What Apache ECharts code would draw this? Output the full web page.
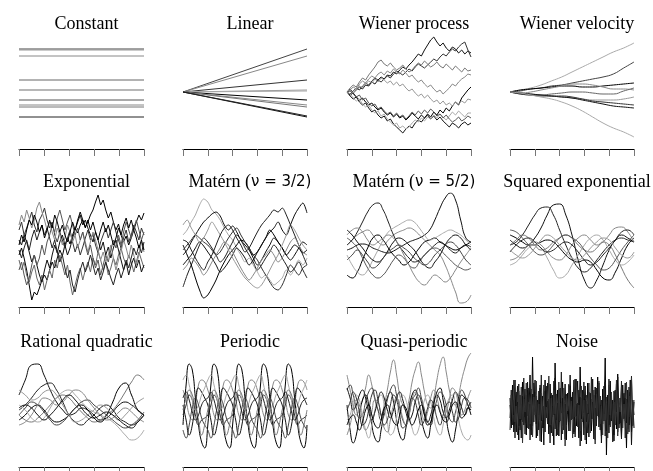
<!DOCTYPE html>
<html>
<head>
<meta charset="utf-8">
<title>GP kernel samples</title>
<script src="https://cdn.jsdelivr.net/npm/echarts@6.0.0/dist/echarts.min.js"></script>
<style>
  html, body { margin: 0; padding: 0; background: #fff; }
  #chart { width: 653px; height: 471px; }
</style>
</head>
<body>
<div id="chart"></div>
<script>
// sample values (y units are arbitrary, axis runs -57..57)
const constantLevels = [43, 42, 36, 12, 2, 2, -8, -13, -15, -25];
const linearEnds = [43, 36, 12, 2, 1, -8, -13, -15, -25, -24];

const wienerProcess = [
  [0, 3, -1, 2, 5, 3, 7, 6, 10, 8, 12, 15, 13, 17, 16, 20, 18, 22, 25, 23, 27, 30, 34, 38, 36, 42, 47, 52, 55, 50, 46, 49, 44, 41, 45, 43, 39, 42, 38, 41, 39],
  [0, -2, 1, 4, 2, 6, 9, 7, 11, 14, 12, 10, 13, 16, 14, 18, 21, 19, 17, 20, 23, 21, 25, 28, 26, 24, 27, 30, 33, 31, 35, 38, 36, 40, 43, 41, 45, 48, 50, 42, 35],
  [0, 4, 7, 5, 10, 14, 12, 17, 21, 25, 30, 32, 28, 26, 29, 25, 22, 24, 27, 23, 20, 22, 26, 29, 27, 31, 28, 25, 27, 30, 26, 24, 28, 25, 22, 26, 23, 20, 24, 21, 22],
  [0, 2, 5, 3, 8, 11, 9, 13, 16, 14, 18, 20, 17, 21, 19, 23, 20, 18, 22, 19, 15, 17, 13, 10, 12, 8, 5, 7, 3, 0, 2, -2, 1, 4, 8, 6, 10, 13, 15, 18, 17],
  [0, -3, -1, -5, -8, -6, -10, -13, -11, -15, -18, -16, -20, -23, -21, -25, -22, -26, -24, -28, -25, -21, -24, -27, -23, -26, -22, -25, -20, -23, -18, -21, -16, -19, -14, -10, -13, -6, -2, 2, 5],
  [0, 2, -1, 3, 6, 4, 8, 11, 9, 13, 10, 14, 12, 9, 11, 7, 10, 6, 8, 4, 1, 3, -1, -4, -2, -6, -3, -7, -10, -8, -12, -9, -13, -11, -14, -10, -12, -9, -11, -7, -8],
  [0, -4, -7, -5, -10, -13, -11, -16, -20, -18, -23, -26, -24, -29, -27, -32, -35, -38, -41, -37, -34, -36, -31, -28, -30, -26, -23, -27, -24, -28, -25, -29, -32, -35, -31, -33, -36, -32, -30, -33, -31],
  [0, -2, -6, -9, -7, -12, -15, -13, -18, -21, -19, -24, -22, -27, -30, -33, -31, -36, -34, -37, -35, -31, -28, -30, -26, -29, -25, -27, -23, -26, -22, -25, -28, -24, -20, -23, -19, -22, -25, -21, -21],
  [0, 1, -2, -5, -3, -8, -6, -11, -14, -12, -17, -15, -19, -22, -20, -24, -21, -25, -23, -27, -24, -20, -23, -19, -22, -18, -21, -17, -20, -24, -22, -26, -23, -27, -30, -28, -25, -29, -27, -24, -26]
];

const wienerVelocity = [
  [0, 2, 4, 7, 11, 15, 20, 25, 30, 35, 40, 44, 49],
  [0, 1, 3, 4, 6, 7, 9, 11, 13, 15, 18, 24, 30],
  [0, 2, 3, 4, 5, 6, 6, 5, 5, 6, 7, 8, 9],
  [0, -1, 0, 2, 4, 6, 8, 8, 7, 5, 3, 3, 2],
  [0, -2, -3, -3, -2, -1, 0, 0, -1, -2, -2, 1, 4],
  [0, -1, -2, -3, -4, -5, -6, -7, -8, -8, -8, -7, -5],
  [0, -1, -2, -3, -4, -5, -6, -8, -10, -12, -14, -15, -16],
  [0, -2, -3, -4, -4, -4, -5, -7, -9, -10, -11, -12, -13],
  [0, -1, -3, -5, -7, -10, -14, -19, -25, -31, -36, -40, -45]
];

const exponential = [
  [-5, 2, -8, -20, -35, -50, -42, -45, -38, -30, -25, -30, -20, -12, -18, -8, 0, -6, 5, 12, 6, 15, 22, 17, 25, 30, 23, 28, 35, 40, 48, 55, 45, 50, 40, 32, 38, 28, 20, 26, 15, 8, 14, 5, 12, 20, 28, 35, 30, 37],
  [20, 28, 15, 22, 30, 38, 25, 18, 30, 35, 42, 30, 22, 28, 15, 8, 18, 10, 2, 12, 20, 8, -2, 6, -5, 3, 12, 20, 10, 16, 5, -3, 8, 15, 22, 12, 20, 28, 18, 10, 2, 12, 20, 8, 15, 25, 18, 10, 22, 15],
  [-10, -20, -12, -25, -32, -22, -15, -28, -35, -25, -40, -30, -20, -28, -10, -18, -5, -15, -25, -15, -32, -45, -35, -25, -18, -30, -20, -12, -22, -8, -15, -2, -10, -20, -12, -25, -18, -8, -15, -5, 2, -8, -15, -5, -12, -22, -12, -2, -10, -18],
  [10, 5, 15, 8, -2, -12, -5, -15, -25, -32, -20, -10, -18, -5, 5, -3, 8, 15, 5, -5, 2, 12, 20, 28, 35, 25, 30, 22, 15, 8, 18, 10, 0, 8, -5, 3, -8, 2, 10, 0, -10, -20, -12, -25, -15, -8, -18, -10, -22, -15],
  [25, 35, 28, 40, 32, 22, 30, 42, 48, 38, 30, 20, 28, 18, 10, 22, 15, 5, 12, 25, 18, 8, 15, 2, 10, 18, 8, -2, 8, 18, 10, 0, -10, -2, -12, -5, 5, -8, -20, -10, -2, 10, 2, -8, 5, -5, -15, -5, 8, -2],
  [0, -8, 2, 10, 0, 12, 20, 10, 18, 25, 15, 22, 12, 2, 10, -2, -12, -5, -18, -28, -20, -35, -42, -30, -20, -12, -22, -15, -5, -15, -25, -18, -30, -22, -12, -20, -28, -35, -25, -18, -28, -20, -10, -18, -8, 2, -5, 5, -3, 8],
  [-20, -12, -25, -35, -28, -15, -5, -15, -8, 5, -5, 8, 15, 25, 18, 32, 40, 30, 20, 28, 35, 25, 15, 22, 10, 18, 5, -5, 5, -8, -18, -10, -25, -15, -5, -12, 0, 10, 2, 15, 5, 18, 28, 20, 12, 22, 30, 20, 10, 18],
  [5, 15, 8, 20, 30, 25, 35, 28, 18, 25, 12, 20, 30, 22, 35, 28, 18, 25, 15, 8, 18, 28, 20, 30, 38, 30, 22, 30, 20, 28, 18, 10, 20, 28, 18, 25, 15, 5, 12, 22, 15, 25, 32, 22, 30, 20, 12, 2, 10, 0]
];

const matern32 = [
  [15, 20, 28, 35, 45, 51, 48, 40, 36, 30, 22, 15, 10, 2, -5, -12, -8, -15, -22, -28, -25, -30, -35, -32, -28, -20, -25, -18, -10, -15, -8],
  [-5, 0, 8, 15, 22, 28, 32, 36, 38, 34, 25, 20, 24, 18, 10, 5, 0, -8, -15, -10, -2, 5, 12, 8, 2, -5, -10, -5, 2, 8, 5],
  [-37, -25, -15, -5, 5, 12, 8, 2, -5, -12, -8, 0, 8, 15, 10, 2, -5, -12, -20, -15, -8, -2, 5, 0, -8, -15, -22, -18, -12, -20, -28],
  [5, -5, -15, -28, -40, -48, -45, -38, -30, -20, -12, -5, 0, 5, 10, 8, 2, -5, -2, 5, 12, 20, 15, 8, 2, -5, 0, 5, 2, -3, 0],
  [-15, -10, -5, 2, 8, 4, -2, -8, -15, -22, -18, -12, -5, 2, -2, -8, -15, -10, -2, 5, 12, 18, 22, 28, 20, 15, 25, 35, 42, 47, 37],
  [0, 5, 10, 15, 12, 8, 5, 0, -5, -2, 5, 12, 18, 22, 15, 8, 2, -5, -10, -18, -25, -32, -38, -40, -35, -25, -15, -20, -25, -18, -15],
  [25, 30, 22, 15, 8, 12, 20, 28, 22, 15, 8, 0, -8, -15, -22, -28, -32, -36, -38, -35, -28, -20, -12, -5, 5, 15, 25, 20, 12, 5, 0],
  [10, 8, 0, -8, -15, -20, -12, -5, 5, 15, 22, 25, 20, 12, 5, -2, 2, 10, 18, 25, 30, 35, 40, 38, 42, 35, 25, 15, 5, -5, -15],
  [-20, -15, -8, -12, -18, -25, -20, -12, -5, 2, 8, 5, -2, -10, -18, -25, -30, -25, -18, -10, -5, 0, -5, -12, -8, 0, 8, 12, 5, -2, -5]
];

const matern52 = [
  [0, 2, 5, 6, 5, 2, 0, -2, -3, -1, 2, 5, 8, 10, 12, 15, 20, 30, 42, 52, 57, 50, 30, 12, 8],
  [5, 10, 15, 18, 20, 15, 8, 5, 10, 15, 18, 20, 22, 20, 15, 10, 5, 0, -5, -15, -28, -42, -53, -52, -45],
  [5, 10, 18, 28, 38, 45, 47, 40, 28, 15, 5, -2, -8, -12, -10, -5, 0, 5, 8, 5, 0, -3, 2, 5, 3],
  [-25, -28, -22, -10, 2, 12, 15, 10, 2, -5, -10, -15, -12, -5, 2, 8, 10, 12, 8, 5, 2, 0, 2, 5, 8],
  [12, 8, 2, -8, -18, -25, -28, -25, -18, -10, -5, -8, -15, -18, -12, -5, 0, 2, 0, -5, -10, -15, -18, -20, -18],
  [-5, -15, -22, -25, -20, -10, 0, 10, 18, 22, 25, 28, 30, 28, 22, 15, 10, 12, 15, 18, 20, 18, 15, 10, 5],
  [15, 20, 22, 18, 10, 5, 8, 12, 15, 12, 5, -5, -15, -25, -32, -35, -30, -25, -28, -32, -28, -20, -12, -5, 2],
  [20, 15, 8, 2, -5, -10, -12, -8, 0, 8, 12, 10, 5, 0, -8, -15, -18, -12, -5, 5, 12, 15, 12, 5, 0],
  [-10, -5, 0, -5, -12, -18, -15, -8, -2, 2, 5, 2, -2, -8, -12, -15, -12, -5, 0, 5, 8, 5, -2, -10, -15]
];

const squaredExp = [
  [5, 8, 15, 25, 35, 42, 43, 35, 20, 5, -8, -18, -22, -18, -10, -2, 5, 10, 12, 10, 8],
  [10, 5, 2, 5, 12, 22, 35, 45, 46, 35, 15, -10, -30, -38, -30, -15, 0, 10, 15, 12, 8],
  [15, 12, 8, 5, 5, 8, 10, 8, 2, -5, -10, -12, -10, -12, -20, -28, -30, -22, -8, 5, 12],
  [-10, -8, -2, 5, 8, 5, -2, -8, -10, -5, 5, 12, 15, 10, 5, 8, 15, 22, 23, 18, 8],
  [5, 10, 15, 12, 5, 0, 2, 8, 12, 15, 12, 5, 0, -2, 2, 8, 5, -5, -18, -30, -38],
  [-15, -12, -5, 2, 5, 2, -8, -20, -28, -25, -15, -5, 5, 12, 15, 10, 0, -10, -15, -12, -5],
  [20, 18, 12, 5, -2, -5, -2, 5, 12, 15, 12, 8, 0, -8, -15, -20, -18, -10, 0, 8, 15],
  [-2, 5, 10, 12, 8, 2, -2, 0, 5, 8, 5, -2, -10, -15, -12, -5, 2, 10, 18, 20, 15],
  [0, -5, -8, -5, 2, 10, 15, 12, 5, -2, -8, -10, -5, 2, 8, 12, 10, 2, -5, -8, -2]
];

const rationalQuad = [
  [15, 30, 45, 46, 35, 20, 8, 0, -5, -3, 2, 0, -5, -10, -8, -2, 5, 8, 5, 0, -5],
  [-5, -10, -12, -8, -2, 5, 12, 15, 12, 5, -2, -8, -12, -10, -5, 0, 8, 18, 28, 35, 30],
  [-10, -5, 2, 5, 0, -8, -12, -10, -5, 2, 5, 0, -8, -12, -5, 8, 22, 27, 15, 0, -5],
  [0, 5, 12, 20, 25, 27, 20, 8, -5, -12, -15, -10, -5, 2, 5, 0, -8, -12, -15, -12, -5],
  [5, 0, -8, -12, -8, 2, 12, 18, 20, 15, 8, 2, -2, -5, -8, -12, -18, -25, -30, -28, -20],
  [-5, 2, 8, 5, -2, -10, -15, -12, -5, 2, 8, 10, 5, 0, -5, -10, -15, -18, -15, -10, -2],
  [20, 15, 10, 12, 18, 20, 15, 5, -5, -12, -10, -5, 0, 5, 2, -5, -10, -5, 2, 8, 12],
  [-15, -12, -5, 5, 12, 10, 5, 8, 15, 20, 18, 10, 2, -5, -10, -8, -2, 2, -2, -8, -12],
  [2, 5, 2, -5, -10, -5, 2, 10, 15, 10, 2, -5, -8, -5, -2, -5, -10, -15, -18, -12, -5]
];

const periodic = [
  [-15, 25, 46, 40, 12, -15, -32, -38, -15, 25, 46, 40, 12, -15, -32, -38, -15, 25, 46, 40, 12, -15, -32, -38, -15, 25, 46, 40, 12, -15, -32, -38, -15, 25, 46, 40, 12, -15, -32, -38, -15],
  [20, 10, -5, -10, 5, 25, 30, 28, 20, 10, -5, -10, 5, 25, 30, 28, 20, 10, -5, -10, 5, 25, 30, 28, 20, 10, -5, -10, 5, 25, 30, 28, 20, 10, -5, -10, 5, 25, 30, 28, 20],
  [-5, 5, 15, 10, -5, -15, -10, -8, -5, 5, 15, 10, -5, -15, -10, -8, -5, 5, 15, 10, -5, -15, -10, -8, -5, 5, 15, 10, -5, -15, -10, -8, -5, 5, 15, 10, -5, -15, -10, -8, -5],
  [5, -10, -25, -15, 8, 22, 18, 12, 5, -10, -25, -15, 8, 22, 18, 12, 5, -10, -25, -15, 8, 22, 18, 12, 5, -10, -25, -15, 8, 22, 18, 12, 5, -10, -25, -15, 8, 22, 18, 12, 5],
  [30, 35, 25, 10, 0, 5, 15, 22, 30, 35, 25, 10, 0, 5, 15, 22, 30, 35, 25, 10, 0, 5, 15, 22, 30, 35, 25, 10, 0, 5, 15, 22, 30, 35, 25, 10, 0, 5, 15, 22, 30],
  [-20, -28, -15, 2, 12, 5, -8, -15, -20, -28, -15, 2, 12, 5, -8, -15, -20, -28, -15, 2, 12, 5, -8, -15, -20, -28, -15, 2, 12, 5, -8, -15, -20, -28, -15, 2, 12, 5, -8, -15, -20],
  [0, 12, 20, 15, 2, -10, -25, -15, 0, 12, 20, 15, 2, -10, -25, -15, 0, 12, 20, 15, 2, -10, -25, -15, 0, 12, 20, 15, 2, -10, -25, -15, 0, 12, 20, 15, 2, -10, -25, -15, 0],
  [12, 18, 10, -2, -10, -5, 5, 10, 12, 18, 10, -2, -10, -5, 5, 10, 12, 18, 10, -2, -10, -5, 5, 10, 12, 18, 10, -2, -10, -5, 5, 10, 12, 18, 10, -2, -10, -5, 5, 10, 12]
];

const quasiPeriodic = [
  [35, 20, 5, -5, 0, 10, 22, 35, 25, 10, 0, -5, 5, 20, 38, 50, 35, 15, 5, 0, 10, 28, 40, 48, 35, 18, 5, 2, 12, 30, 45, 53, 38, 20, 8, 5, 15, 30, 42, 52, 57],
  [5, -20, -33, -25, -5, 10, 15, 5, -15, -28, -32, -20, 0, 12, 18, 8, -10, -25, -30, -18, 2, 15, 20, 10, -8, -22, -28, -15, 5, 18, 22, 10, -8, -25, -32, -20, 0, 15, 12, 5, -5],
  [20, 25, 15, 2, -8, -5, 8, 18, 22, 12, 0, -10, -5, 10, 20, 25, 15, 2, -10, -15, -5, 10, 15, 22, 12, 0, -12, -15, -2, 10, 18, 15, 5, -8, -12, -2, 10, 20, 15, 5, 0],
  [-10, -5, 8, 15, 10, -5, -20, -28, -15, 0, 12, 15, 5, -12, -25, -22, -8, 8, 15, 10, -5, -18, -25, -20, -5, 10, 15, 8, -8, -20, -25, -15, 2, 12, 15, 5, -10, -22, -28, -30, -25],
  [22, 12, 0, 5, 15, 20, 12, -2, -10, -2, 10, 18, 12, 0, -8, 0, 12, 18, 10, -2, -10, -5, 8, 15, 8, -5, -12, -5, 8, 15, 10, -2, -8, 0, 10, 18, 12, 2, -5, 2, 8],
  [-25, -15, 0, 10, 5, -10, -20, -15, -2, 10, 8, -5, -18, -22, -10, 5, 12, 5, -8, -15, -5, 10, 18, 10, -2, -10, -2, 12, 20, 12, 0, -8, -2, 10, 22, 18, 5, -5, 0, 12, 20],
  [0, 8, 18, 12, -2, -15, -12, 0, 15, 20, 10, -5, -15, -10, 5, 15, 10, -5, -18, -15, 0, 12, 8, -5, -15, -10, 2, 10, 5, -8, -15, -5, 5, 8, -2, -12, -8, 5, 12, 10, 2],
  [-15, -8, -5, -12, -20, -12, 0, 5, -5, -15, -18, -10, 2, 5, -3, -12, -15, -5, 5, 2, -8, -15, -10, 0, 5, -5, -15, -12, 0, 5, -2, -10, -12, -5, 5, 8, 0, -8, -5, 2, 0]
];

const noise = [
  [12, -18, 25, -5, 30, -22, 8, -30, 15, -10, 28, -15, 5, -25, 20, -8, 35, -20, 53, -12, 18, -28, 10, -5, 22, -32, 14, -18, 30, -6, 9, -24, 26, -14, 4, -35, 47, -10, 20, -26, 12, -3, 28, -20, 6, -30, 17, -12, 24, -8, 13, -22, 31, -16, 7, -28, 43, -9, 19, -25, 11, -34, 27, -4, 16, -21, 8, -29, 23, -13, 33, -17, 5, -26, 21, -11, 52, -45, 15, -23, 29, -7, 10, -31, 18, -19, 36, -14, 3, -27, 25, -9, 12, -38, 20, -15, 30, -22, 8, -18],
  [-8, 20, -15, 10, -28, 18, -3, 26, -20, 6, -12, 32, -24, 15, -6, 22, -30, 9, -16, 27, -2, 14, -26, 19, -10, 35, -18, 4, -22, 24, -14, 11, -33, 17, -7, 29, -19, 2, -25, 21, -11, 38, -16, 8, -29, 16, -4, 25, -21, 13, -9, 30, -27, 6, -15, 20, -36, 12, -5, 28, -18, 9, -23, 18, -12, 33, -8, 15, -30, 22, -3, 27, -20, 10, -14, 24, -26, 7, -10, 31, -17, 14, -32, 19, -6, 26, -22, 3, -13, 29, -9, 17, -28, 11, -19, 23, -4, 34, -15, 8],
  [5, -10, 18, -22, 9, -4, 24, -16, 2, -28, 14, -7, 21, -13, 28, -19, 6, -25, 16, -1, 30, -14, 8, -20, 25, -11, 3, -35, 19, -8, 27, -17, 10, -23, 15, -5, 32, -26, 7, -12, 22, -30, 12, -2, 26, -15, 4, -21, 35, -10, 18, -24, 9, -6, 29, -18, 13, -31, 20, -3, 24, -12, 6, -27, 17, -9, 31, -20, 2, -16, 26, -7, 14, -33, 11, -4, 28, -21, 9, -15, 23, -11, 5, -25, 20, -2, 33, -18, 12, -29, 16, -8, 27, -13, 6, -22, 18, -35, 10, -5],
  [-20, 15, -6, 30, -12, 4, -25, 19, -9, 23, -33, 11, -2, 27, -18, 8, -14, 21, -27, 13, -5, 29, -16, 6, -31, 17, -10, 25, -22, 3, -8, 34, -15, 12, -26, 20, -4, 16, -19, 28, -11, 7, -24, 22, -36, 14, -1, 26, -13, 9, -28, 18, -7, 31, -17, 5, -21, 24, -12, 10, -30, 15, -3, 27, -23, 11, -9, 20, -34, 16, -6, 29, -14, 4, -25, 21, -10, 13, -28, 25, -5, 18, -20, 8, -15, 30, -26, 12, -2, 23, -18, 6, -11, 28, -24, 14, -7, 32, -16, 10]
];

const titles = [
  "Constant", "Linear", "Wiener process", "Wiener velocity",
  "Exponential", "{a|Matérn (}{b|ν = 3/2)}", "{a|Matérn (}{b|ν = 5/2)}", "Squared exponential",
  "Rational quadratic", "Periodic", "Quasi-periodic", "Noise"
];

const panels = [
  { lines: constantLevels.map(v => [v, v]),
    colors: ["#444", "#999", "#888", "#666", "#aaa", "#999", "#555", "#888", "#777", "#222"], smooth: false },
  { lines: linearEnds.map(v => [0, v]),
    colors: ["#444", "#888", "#333", "#999", "#aaa", "#000", "#888", "#777", "#111", "#222"], smooth: false },
  { lines: wienerProcess,
    colors: ["#111", "#333", "#777", "#888", "#000", "#999", "#111", "#aaa", "#555"], smooth: false },
  { lines: wienerVelocity,
    colors: ["#aaa", "#444", "#000", "#888", "#666", "#999", "#111", "#333", "#aaa"], smooth: true },
  { lines: exponential,
    colors: ["#000", "#333", "#666", "#111", "#888", "#222", "#555", "#000"], smooth: false },
  { lines: matern32,
    colors: ["#aaa", "#111", "#222", "#000", "#111", "#333", "#999", "#222", "#888"], smooth: 0.3 },
  { lines: matern52,
    colors: ["#111", "#888", "#222", "#000", "#555", "#aaa", "#888", "#111", "#444"], smooth: true },
  { lines: squaredExp,
    colors: ["#222", "#111", "#000", "#888", "#777", "#aaa", "#555", "#222", "#999"], smooth: true },
  { lines: rationalQuad,
    colors: ["#111", "#777", "#000", "#222", "#aaa", "#444", "#999", "#888", "#111"], smooth: true },
  { lines: periodic,
    colors: ["#000", "#888", "#333", "#111", "#aaa", "#444", "#777", "#222"], smooth: true },
  { lines: quasiPeriodic,
    colors: ["#888", "#000", "#444", "#aaa", "#111", "#888", "#333", "#000"], smooth: true },
  { lines: noise,
    colors: ["#000", "#222", "#111", "#333"], smooth: false }
];

const colLeft = [19, 183, 347, 510];
const colWidth = [125, 124, 124, 124];
const rowTop = [35, 193, 353];
const plotH = 114;

const option = {
  animation: false,
  backgroundColor: "#fff",
  title: [],
  grid: [],
  xAxis: [],
  yAxis: [],
  series: []
};

panels.forEach((p, k) => {
  const r = Math.floor(k / 4), c = k % 4;
  option.title.push({
    text: titles[k],
    left: colLeft[c] + colWidth[c] / 2,
    top: rowTop[r] - 25,
    textAlign: "center",
    textStyle: {
      fontFamily: "'Liberation Serif', serif",
      fontSize: 18,
      fontWeight: "normal",
      color: "#000",
      rich: {
        a: { fontFamily: "'Liberation Serif', serif", fontSize: 18, color: "#000" },
        b: { fontFamily: "DejaVu Sans", fontSize: 15, color: "#000" }
      }
    }
  });
  option.grid.push({ left: colLeft[c], top: rowTop[r], width: colWidth[c], height: plotH });
  option.xAxis.push({
    gridIndex: k, type: "value", min: 0, max: 1, interval: 0.2,
    axisLine: { onZero: false, lineStyle: { color: "#000", width: 1 } },
    axisTick: { length: 7, lineStyle: { color: "#777" } },
    axisLabel: { show: false },
    splitLine: { show: false }
  });
  option.yAxis.push({ gridIndex: k, type: "value", min: -57, max: 57, show: false });
  p.lines.forEach((vals, j) => {
    option.series.push({
      type: "line",
      xAxisIndex: k,
      yAxisIndex: k,
      data: vals.map((v, i) => [i / (vals.length - 1), v]),
      showSymbol: false,
      symbol: "none",
      smooth: p.smooth,
      silent: true,
      lineStyle: { width: 1, color: p.colors[j % p.colors.length] }
    });
  });
});

const chart = echarts.init(document.getElementById("chart"), null, { renderer: "canvas" });
chart.setOption(option);
</script>
</body>
</html>
